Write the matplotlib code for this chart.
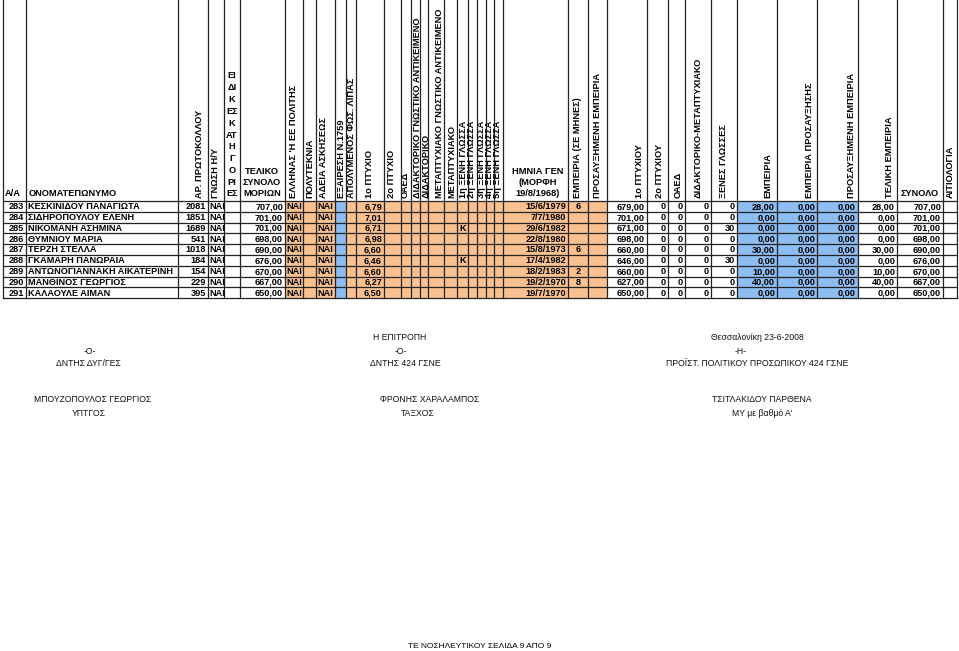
import matplotlib
matplotlib.use("Agg")
import matplotlib.pyplot as plt
from matplotlib import font_manager as fm
from matplotlib.patches import Rectangle


def pick(cands):
    for c in cands:
        try:
            fm.findfont(fm.FontProperties(family=c), fallback_to_default=False)
            return c
        except Exception:
            pass
    return "DejaVu Sans"


NARROW = pick(["Liberation Sans Narrow", "Arial Narrow", "Liberation Sans"])
WIDE = pick(["Liberation Sans", "Arial", "DejaVu Sans"])

# ---------------- data ----------------
row_no = [283, 284, 285, 286, 287, 288, 289, 290, 291]
names = ["ΚΕΣΚΙΝΙΔΟΥ ΠΑΝΑΓΙΩΤΑ", "ΣΙΔΗΡΟΠΟΥΛΟΥ ΕΛΕΝΗ", "ΝΙΚΟΜΑΝΗ ΑΣΗΜΙΝΑ",
         "ΘΥΜΝΙΟΥ ΜΑΡΙΑ", "ΤΕΡΖΗ ΣΤΕΛΛΑ", "ΓΚΑΜΑΡΗ ΠΑΝΩΡΑΙΑ",
         "ΑΝΤΩΝΟΓΙΑΝΝΑΚΗ ΑΙΚΑΤΕΡΙΝΗ", "ΜΑΝΘΙΝΟΣ ΓΕΩΡΓΙΟΣ", "ΚΑΛΑΟΥΛΕ ΑΙΜΑΝ"]
protocol = [2081, 1851, 1689, 541, 1018, 184, 154, 229, 395]
computer = ["ΝΑΙ", "ΝΑΙ", "ΝΑΙ", "ΝΑΙ", "ΝΑΙ", "ΝΑΙ", "ΝΑΙ", "ΝΑΙ", "ΝΑΙ"]
final_points = [707.00, 701.00, 701.00, 698.00, 690.00, 676.00, 670.00, 667.00, 650.00]
citizen = ["ΝΑΙ", "ΝΑΙ", "ΝΑΙ", "ΝΑΙ", "ΝΑΙ", "ΝΑΙ", "ΝΑΙ", "ΝΑΙ", "ΝΑΙ"]
licence = ["ΝΑΙ", "ΝΑΙ", "ΝΑΙ", "ΝΑΙ", "ΝΑΙ", "ΝΑΙ", "ΝΑΙ", "ΝΑΙ", "ΝΑΙ"]
degree1 = [6.79, 7.01, 6.71, 6.98, 6.60, 6.46, 6.60, 6.27, 6.50]
lang1 = ["", "", "Κ", "", "", "Κ", "", "", ""]
birth = ["15/6/1979", "7/7/1980", "29/6/1982", "22/8/1980", "15/8/1973",
         "17/4/1982", "18/2/1983", "19/2/1970", "19/7/1970"]
exp_months = [6, None, None, None, 6, None, 2, 8, None]
pts_degree1 = [679.00, 701.00, 671.00, 698.00, 660.00, 646.00, 660.00, 627.00, 650.00]
pts_degree2 = [0, 0, 0, 0, 0, 0, 0, 0, 0]
pts_oaed = [0, 0, 0, 0, 0, 0, 0, 0, 0]
pts_phd = [0, 0, 0, 0, 0, 0, 0, 0, 0]
pts_lang = [0, 0, 30, 0, 0, 30, 0, 0, 0]
pts_exp = [28.00, 0.00, 0.00, 0.00, 30.00, 0.00, 10.00, 40.00, 0.00]
pts_exp_inc = [0.00, 0.00, 0.00, 0.00, 0.00, 0.00, 0.00, 0.00, 0.00]
pts_inc_exp = [0.00, 0.00, 0.00, 0.00, 0.00, 0.00, 0.00, 0.00, 0.00]
pts_total_exp = [28.00, 0.00, 0.00, 0.00, 30.00, 0.00, 10.00, 40.00, 0.00]
grand_total = [707.00, 701.00, 701.00, 698.00, 690.00, 676.00, 670.00, 667.00, 650.00]

rot_headers = ["ΑΡ. ΠΡΩΤΟΚΟΛΛΟΥ", "ΓΝΩΣΗ Η/Υ", "ΕΛΛΗΝΑΣ 'Η ΕΕ ΠΟΛΙΤΗΣ", "ΠΟΛΥΤΕΚΝΙΑ",
               "ΑΔΕΙΑ ΑΣΚΗΣΕΩΣ", "ΕΞΑΙΡΕΣΗ Ν.1759", "ΑΠΟΛΥΜΕΝΟΣ ΦΩΣ. ΛΙΠΑΣ",
               "1ο ΠΤΥΧΙΟ", "2ο ΠΤΥΧΙΟ", "ΟΑΕΔ", "ΔΙΔΑΚΤΟΡΙΚΟ ΓΝΩΣΤΙΚΟ ΑΝΤΙΚΕΙΜΕΝΟ",
               "ΔΙΔΑΚΤΟΡΙΚΟ", "ΜΕΤΑΠΤΥΧΙΑΚΟ ΓΝΩΣΤΙΚΟ ΑΝΤΙΚΕΙΜΕΝΟ", "ΜΕΤΑΠΤΥΧΙΑΚΟ",
               "1η ΞΕΝΗ ΓΛΩΣΣΑ", "2η ΞΕΝΗ ΓΛΩΣΣΑ", "3η ΞΕΝΗ ΓΛΩΣΣΑ", "4η ΞΕΝΗ ΓΛΩΣΣΑ",
               "5η ΞΕΝΗ ΓΛΩΣΣΑ", "ΕΜΠΕΙΡΙΑ (ΣΕ ΜΗΝΕΣ)", "ΠΡΟΣΑΥΞΗΜΕΝΗ ΕΜΠΕΙΡΙΑ",
               "1ο ΠΤΥΧΙΟΥ", "2ο ΠΤΥΧΙΟΥ", "ΟΑΕΔ", "ΔΙΔΑΚΤΟΡΙΚΟ-ΜΕΤΑΠΤΥΧΙΑΚΟ",
               "ΞΕΝΕΣ ΓΛΩΣΣΕΣ", "ΕΜΠΕΙΡΙΑ", "ΕΜΠΕΙΡΙΑ ΠΡΟΣΑΥΞΗΣΗΣ",
               "ΠΡΟΣΑΥΞΗΜΕΝΗ ΕΜΠΕΙΡΙΑ", "ΤΕΛΙΚΗ ΕΜΠΕΙΡΙΑ", "ΑΙΤΙΟΛΟΓΙΑ"]
stack_header = ["ΕΙ", "ΔΙ", "Κ", "ΕΣ", "Κ", "ΑΤ", "Η", "Γ", "Ο", "ΡΙ", "ΕΣ"]

# ---------------- layout ----------------
W, H = 959, 651
fig = plt.figure(figsize=(W / 100, H / 100), dpi=100)
ax = fig.add_axes([0, 0, 1, 1])
ax.set_xlim(0, W)
ax.set_ylim(H, 0)
ax.axis("off")

cols = [3, 26, 178, 208, 224, 240, 285, 303, 316, 335, 346, 356, 384, 401, 411,
        420, 428, 444, 457, 468, 477, 486, 494, 503, 568, 588, 607, 647, 668, 685,
        711, 737, 777, 817, 858, 897, 943, 957]
rot_x = [200, 216, 294, 310, 324, 341, 351, 370, 392, 405, 418, 426, 440, 452,
         463, 472, 481, 489, 498, 577, 598, 640, 659, 678, 698, 724, 768, 809,
         851, 890, 950]
head_bot = 201.0
rh = 10.8
nrow = len(row_no)
ybot = head_bot + rh * nrow

ORANGE = "#F9C190"
BLUE = "#8EBDF2"
LC = "#222222"
FS = 6.6
HFS = 6.7

# fills
for r in range(nrow):
    y0 = head_bot + r * rh
    for c in range(6, 26):
        col = BLUE if c == 9 else ORANGE
        ax.add_patch(Rectangle((cols[c], y0), cols[c + 1] - cols[c], rh,
                               facecolor=col, edgecolor="none", zorder=1))
    for c in (31, 32, 33):
        ax.add_patch(Rectangle((cols[c], y0), cols[c + 1] - cols[c], rh,
                               facecolor=BLUE, edgecolor="none", zorder=1))

# grid
for x in cols:
    ax.plot([x, x], [0, ybot], color=LC, lw=0.9, zorder=3)
for r in range(nrow + 1):
    y = head_bot + r * rh
    ax.plot([cols[0], cols[-1]], [y, y], color=LC, lw=0.9, zorder=3)

# header
hkw = dict(fontsize=HFS, fontweight="bold", family=WIDE, zorder=4)
for t, x in zip(rot_headers, rot_x):
    ax.text(x, 198, t, rotation=90, ha="center", va="bottom", **hkw)
ax.text(5, 194, "Α/Α", ha="left", va="center", **hkw)
ax.text(29, 194, "ΟΝΟΜΑΤΕΠΩΝΥΜΟ", ha="left", va="center", **hkw)
for i, t in enumerate(stack_header):
    ax.text(232, 76 + i * 11.8, t, ha="center", va="center", **hkw)
for i, t in enumerate(["ΤΕΛΙΚΟ", "ΣΥΝΟΛΟ", "ΜΟΡΙΩΝ"]):
    ax.text(262, 171 + i * 11.5, t, ha="center", va="center", **hkw)
for i, t in enumerate(["ΗΜΝΙΑ ΓΕΝ", "(ΜΟΡΦΗ", "19/8/1968)"]):
    ax.text(538, 171 + i * 11.5, t, ha="center", va="center", **hkw)
ax.text(920, 194, "ΣΥΝΟΛΟ", ha="center", va="center", **hkw)

# body
dkw = dict(fontsize=FS, fontweight="bold", family=NARROW, zorder=4, va="center")


def f2(v):
    return f"{v:.2f}".replace(".", ",")


def right(c, y, t):
    ax.text(cols[c + 1] - 2, y, t, ha="right", **dkw)


def left(c, y, t):
    ax.text(cols[c] + 1.5, y, t, ha="left", **dkw)


def center(c, y, t):
    ax.text((cols[c] + cols[c + 1]) / 2, y, t, ha="center", **dkw)


for r in range(nrow):
    y = head_bot + (r + 0.5) * rh + 0.3
    right(0, y, str(row_no[r]))
    left(1, y, names[r])
    right(2, y, str(protocol[r]))
    left(3, y, computer[r])
    right(5, y, f2(final_points[r]))
    left(6, y, citizen[r])
    left(8, y, licence[r])
    right(11, y, f2(degree1[r]))
    if lang1[r]:
        center(18, y, lang1[r])
    right(23, y, birth[r])
    if exp_months[r] is not None:
        center(24, y, str(exp_months[r]))
    right(26, y, f2(pts_degree1[r]))
    right(27, y, str(pts_degree2[r]))
    right(28, y, str(pts_oaed[r]))
    right(29, y, str(pts_phd[r]))
    right(30, y, str(pts_lang[r]))
    right(31, y, f2(pts_exp[r]))
    right(32, y, f2(pts_exp_inc[r]))
    right(33, y, f2(pts_inc_exp[r]))
    right(34, y, f2(pts_total_exp[r]))
    right(35, y, f2(grand_total[r]))

# footer
fkw = dict(fontsize=6.2, family=NARROW, ha="center", va="center",
           fontweight="normal", color="#111111")
ax.text(400, 337, "Η ΕΠΙΤΡΟΠΗ", **fkw)
ax.text(757, 338, "Θεσσαλονίκη 23-6-2008", **fkw)
ax.text(90, 352, "-Ο-", **fkw)
ax.text(401, 352, "-Ο-", **fkw)
ax.text(741, 352, "-Η-", **fkw)
ax.text(88, 364, "ΔΝΤΗΣ ΔΥΓ/ΓΕΣ", **fkw)
ax.text(405, 364, "ΔΝΤΗΣ 424 ΓΣΝΕ", **fkw)
ax.text(757, 364, "ΠΡΟΪΣΤ. ΠΟΛΙΤΙΚΟΥ ΠΡΟΣΩΠΙΚΟΥ 424 ΓΣΝΕ", **fkw)
ax.text(93, 400, "ΜΠΟΥΖΟΠΟΥΛΟΣ ΓΕΩΡΓΙΟΣ", **fkw)
ax.text(89, 414, "ΥΠΤΓΟΣ", **fkw)
ax.text(430, 400, "ΦΡΟΝΗΣ ΧΑΡΑΛΑΜΠΟΣ", **fkw)
ax.text(418, 414, "ΤΑΞΧΟΣ", **fkw)
ax.text(762, 400, "ΤΣΙΤΛΑΚΙΔΟΥ ΠΑΡΘΕΝΑ", **fkw)
ax.text(762, 414, "ΜΥ με βαθμό Α'", **fkw)
ax.text(480, 647, "ΤΕ ΝΟΣΗΛΕΥΤΙΚΟΥ ΣΕΛΙΔΑ 9 ΑΠΟ 9", fontsize=6.0, family=WIDE,
        ha="center", va="center")

fig.savefig("out.png", dpi=100)
